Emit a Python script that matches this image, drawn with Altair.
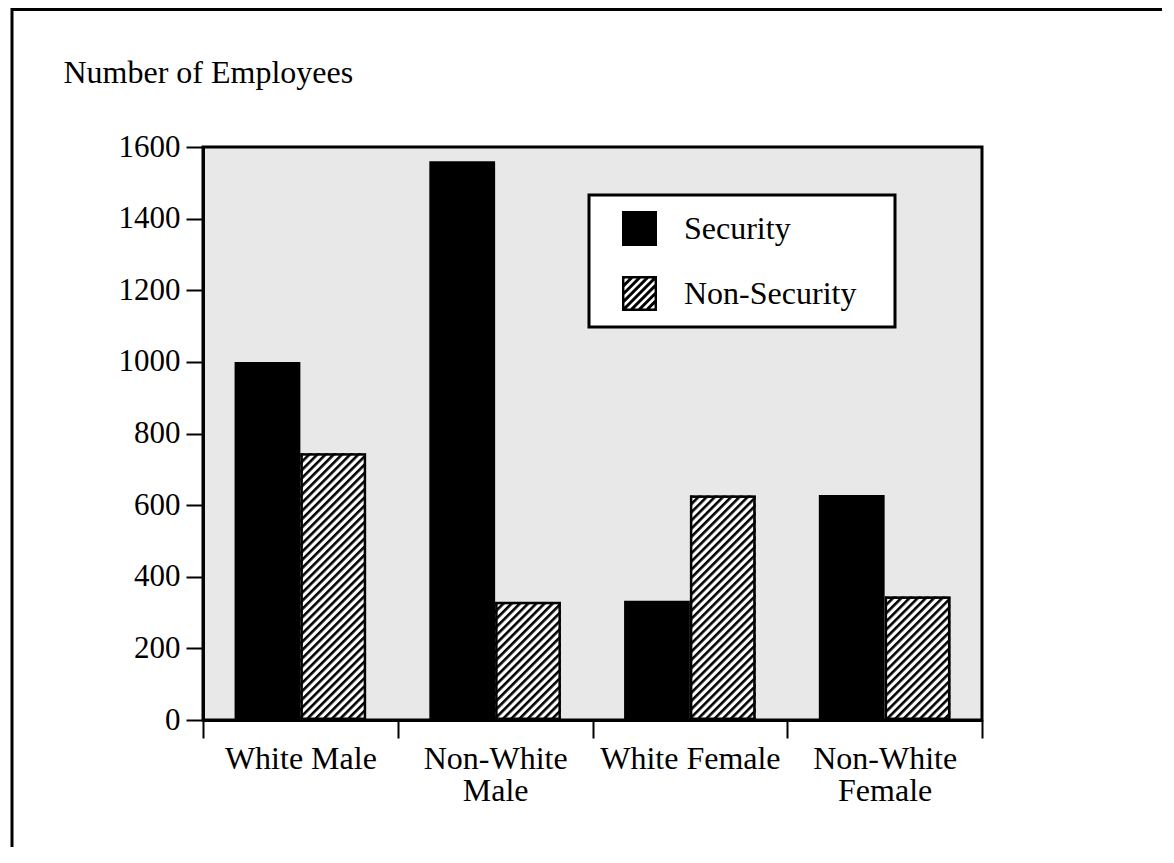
import base64
import altair as alt
import pandas as pd

# ---- data ----
categories = ["White Male", "Non-White Male", "White Female", "Non-White Female"]
series = ["Security", "Non-Security"]
security = [1000, 1560, 333, 628]
non_security = [745, 330, 627, 345]
y_ticks = [0, 200, 400, 600, 800, 1000, 1200, 1400, 1600]

rows = []
for c, s, n in zip(categories, security, non_security):
    rows.append({"group": c, "series": "Security", "employees": s})
    rows.append({"group": c, "series": "Non-Security", "employees": n})
df = pd.DataFrame(rows)

FONT = "Liberation Serif"

# hatch fill for the Non-Security bars (an SVG pattern drawn by an image mark)
hatch_svg = (
    "<svg xmlns='http://www.w3.org/2000/svg' width='100%' height='100%'>"
    "<defs><pattern id='h' width='5.8' height='5.8' patternUnits='userSpaceOnUse' "
    "patternTransform='rotate(45)'>"
    "<rect width='5.8' height='5.8' fill='white'/>"
    "<rect width='2.6' height='5.8' fill='black'/></pattern></defs>"
    "<rect width='100%' height='100%' fill='url(#h)' stroke='black' stroke-width='5'/>"
    "</svg>"
)
hatch_uri = "data:image/svg+xml;base64," + base64.b64encode(hatch_svg.encode()).decode()


# hatched square glyph for the legend, built from filled shapes (frame ring + stripes)
def _clip(poly, f):
    out = []
    n = len(poly)
    for i in range(n):
        p, q = poly[i], poly[(i + 1) % n]
        fp, fq = f(p), f(q)
        if fp >= 0:
            out.append(p)
        if (fp >= 0) != (fq >= 0):
            t = fp / (fp - fq)
            out.append((p[0] + t * (q[0] - p[0]), p[1] + t * (q[1] - p[1])))
    return out


square = [(-1.0, -1.0), (1.0, -1.0), (1.0, 1.0), (-1.0, 1.0)]
glyph = ["M-1,-1L1,-1L1,1L-1,1Z", "M-0.86,-0.86L-0.86,0.86L0.86,0.86L0.86,-0.86Z"]
half = 0.12
for k in range(-4, 5):
    c = 0.45 * k
    poly = _clip(square, lambda p, c=c: (p[0] + p[1]) - (c - half))
    poly = _clip(poly, lambda p, c=c: (c + half) - (p[0] + p[1]))
    if len(poly) >= 3:
        glyph.append("M" + "L".join(f"{x:.3f},{y:.3f}" for x, y in poly) + "Z")
hatch_glyph = "".join(glyph)

x_axis = alt.Axis(
    title=None, labelAngle=0, labelFont=FONT, labelFontSize=32, labelColor="black",
    labelPadding=5, labelLineHeight=32, labelBaseline="top", labelLimit=400,
    labelExpr="indexof(datum.label, 'Non-White') == 0 ? split(datum.label, ' ') : datum.label",
    tickBand="extent", tickSize=18, tickWidth=2, tickColor="black",
    domainColor="black", domainWidth=3, grid=False,
)
y_axis = alt.Axis(
    values=y_ticks, format="d",
    title="Number of Employees", titleAngle=0, titleX=-140, titleY=-65,
    titleAlign="left", titleBaseline="alphabetic", titleFont=FONT, titleFontSize=32,
    titleFontWeight="normal", titleColor="black",
    labelFont=FONT, labelFontSize=31, labelColor="black", labelPadding=6,
    tickSize=17, tickWidth=2, tickColor="black",
    domainColor="black", domainWidth=3, grid=False,
)

x_enc = alt.X("group:N", scale=alt.Scale(domain=categories, paddingInner=0, paddingOuter=0), axis=x_axis)
xo_enc = alt.XOffset("series:N", scale=alt.Scale(domain=series, paddingInner=0, paddingOuter=0.48))
y_enc = alt.Y("employees:Q", stack=None, scale=alt.Scale(domain=[0, 1600], nice=False), axis=y_axis)

legend = alt.Legend(
    title="\u00a0", titleOrient="right", titlePadding=23, titleFontSize=6,
    orient="none", legendX=386, legendY=48,
    fillColor="white", strokeColor="black", padding=16,
    symbolSize=1225, symbolOffset=17, symbolOpacity=1, symbolStrokeWidth=0,
    labelFont=FONT, labelFontSize=32, labelColor="black", labelOffset=27,
    labelLimit=400, rowPadding=30,
)

color_enc = alt.Color("series:N", scale=alt.Scale(domain=series, range=["black", "black"]), legend=legend)

base = alt.Chart(df)

# invisible points: they only carry the shape channel so the legend shows a hatched square
legend_points = base.mark_point(filled=True, opacity=0).encode(
    x=x_enc,
    xOffset=xo_enc,
    y=y_enc,
    color=color_enc,
    shape=alt.Shape("series:N", scale=alt.Scale(domain=series, range=["square", hatch_glyph]), legend=legend),
)

bars = base.mark_bar().encode(
    x=x_enc,
    xOffset=xo_enc,
    y=y_enc,
    color=color_enc,
)

hatch = base.transform_filter(alt.datum.series == "Non-Security").mark_image(
    aspect=False, url=hatch_uri
).encode(
    x=x_enc,
    xOffset=xo_enc,
    y=y_enc,
    y2=alt.datum(0),
)

frame_src = alt.Data(values=[{"k": 1}])
frame_left = alt.Chart(frame_src).mark_rule(color="black", strokeWidth=3).encode(
    x=alt.value(-191), y=alt.value(-140), y2=alt.value(720)
)
frame_top = alt.Chart(frame_src).mark_rule(color="black", strokeWidth=3).encode(
    x=alt.value(-192), x2=alt.value(975), y=alt.value(-137.5)
)

chart = (
    alt.layer(frame_left, frame_top, legend_points, bars, hatch)
    .properties(
        width=779, height=573,
        padding={"left": 195, "top": 139, "right": 180, "bottom": 127},
        autosize=alt.AutoSizeParams(type="none"),
    )
    .configure(background="white")
    .configure_view(fill="#e8e8e8", stroke="black", strokeWidth=3)
    .configure_legend(strokeWidth=3)
)

chart.save("out.html", embed_options={"renderer": "svg", "actions": False})
